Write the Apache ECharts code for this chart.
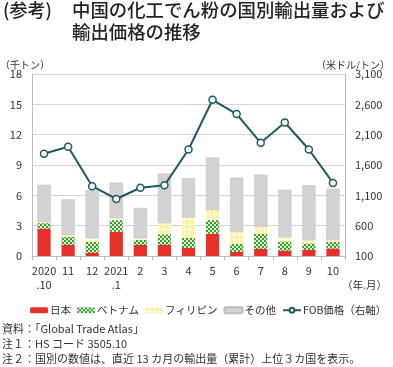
<!DOCTYPE html>
<html><head><meta charset="utf-8">
<script src="https://cdn.jsdelivr.net/npm/echarts@6/dist/echarts.min.js"></script>
<style>html,body{margin:0;padding:0;background:#fff}#c{width:393px;height:367px}</style>
</head><body><div id="c"></div>
<script>
var categories = ['2020\n.10','11','12','2021\n.1','2','3','4','5','6','7','8','9','10'];
var japan =       [2.7, 1.1, 0.3, 2.4, 1.1, 1.1, 0.8, 2.2, 0.4, 0.7, 0.5, 0.6, 0.75];
var vietnam =     [0.55,0.8, 1.1, 1.15,0.5, 1.05,1.0, 1.35,0.8, 1.5, 0.95,0.65,0.65];
var philippines = [0.1, 0.15,0.35,0.2, 0.15,1.1, 2.0, 1.0, 1.2, 0.7, 0.4, 0.3, 0.15];
var others =      [3.7, 3.55,4.75,3.5, 3.0, 4.9, 3.9, 5.2, 5.35,5.15,4.7, 5.45,5.1];
var fob =         [1785,1900,1250,1040,1225,1265,1855,2675,2440,1965,2300,1855,1305];
var leftTicks = {min:0, max:18, interval:3};
var rightTicks = {min:100, max:3100, interval:500};

function pat(kind){
  var c = document.createElement('canvas');
  var ctx = c.getContext('2d');
  if(kind==='green'){
    c.width=4;c.height=4;
    ctx.fillStyle='#d8efc8';ctx.fillRect(0,0,4,4);
    ctx.fillStyle='#3c9a3c';
    ctx.fillRect(0,0,2,2);ctx.fillRect(2,2,2,2);
  } else {
    c.width=5;c.height=5;
    ctx.fillStyle='#fbf3a0';ctx.fillRect(0,0,5,5);
    ctx.fillStyle='#fffde8';
    ctx.fillRect(0,4,5,1);ctx.fillRect(4,0,1,5);
  }
  return {image:c, repeat:'repeat'};
}

var chart = echarts.init(document.getElementById('c'));
var font = '"Noto Sans CJK JP","Noto Sans",sans-serif';
chart.setOption({
  animation:false,
  textStyle:{fontFamily:font},
  grid:{left:32,right:48,top:74,bottom:111},
  graphic:[
    {type:'text',left:3,top:1,style:{text:'(参考)',font:'500 18px '+font,fill:'#222'}},
    {type:'text',left:72,top:1,style:{text:'中国の化工でん粉の国別輸出量および',font:'500 18.4px '+font,fill:'#222'}},
    {type:'text',left:72,top:23,style:{text:'輸出価格の推移',font:'500 18.4px '+font,fill:'#222'}},
    {type:'text',left:0,top:60,style:{text:'（千トン）',font:'10px '+font,fill:'#333'}},
    {type:'text',right:3,top:60,style:{text:'（米ドル/トン）',font:'10px '+font,fill:'#333'}},
    {type:'text',left:342,top:280,style:{text:'（年.月）',font:'10.5px '+font,fill:'#333'}},
    {type:'text',left:2,top:323,style:{text:'資料：「Global Trade Atlas」',font:'11px '+font,fill:'#333'}},
    {type:'text',left:2,top:338,style:{text:'注１：HS コード 3505.10',font:'11px '+font,fill:'#333'}},
    {type:'text',left:2,top:353,style:{text:'注２：国別の数値は、直近 13 カ月の輸出量（累計）上位３カ国を表示。',font:'11px '+font,fill:'#333'}}
  ],
  legend:{
    left:30, top:305, padding:0, width:363, itemWidth:18, itemHeight:6, itemGap:6,
    textStyle:{fontSize:10.5,color:'#333',padding:[0,0,0,-3]},
    data:['日本','ベトナム','フィリピン','その他','FOB価格（右軸）']
  },
  xAxis:{
    type:'category',data:categories,
    axisLine:{lineStyle:{color:'#bbb'}},
    axisTick:{show:true,lineStyle:{color:'#bbb'},length:4},
    axisLabel:{color:'#333',fontSize:11,lineHeight:14,margin:8,interval:0}
  },
  yAxis:[
    {type:'value',min:leftTicks.min,max:leftTicks.max,interval:leftTicks.interval,
     axisLine:{show:true,lineStyle:{color:'#bbb'}},axisTick:{show:false},
     axisLabel:{color:'#333',fontSize:11,margin:10},
     splitLine:{lineStyle:{color:'#d4d4d4'}}},
    {type:'value',min:rightTicks.min,max:rightTicks.max,interval:rightTicks.interval,
     axisLine:{show:true,lineStyle:{color:'#bbb'}},axisTick:{show:false},
     axisLabel:{color:'#333',fontSize:11,margin:10,formatter:function(v){return v.toLocaleString('en-US');}},
     splitLine:{show:false}}
  ],
  series:[
    {name:'日本',type:'bar',stack:'s',data:japan,barWidth:'55%',itemStyle:{color:'#e6312b'}},
    {name:'ベトナム',type:'bar',stack:'s',data:vietnam,itemStyle:{color:pat('green')}},
    {name:'フィリピン',type:'bar',stack:'s',data:philippines,itemStyle:{color:pat('yellow')}},
    {name:'その他',type:'bar',stack:'s',data:others,itemStyle:{color:'#d3d3d3',borderColor:'#bdbdbd',borderWidth:0.5}},
    {name:'FOB価格（右軸）',type:'line',yAxisIndex:1,data:fob,
     symbol:'circle',symbolSize:7,
     lineStyle:{color:'#1d5a66',width:2},
     itemStyle:{color:'#fff',borderColor:'#1d5a66',borderWidth:1.5}}
  ]
});
</script></body></html>
